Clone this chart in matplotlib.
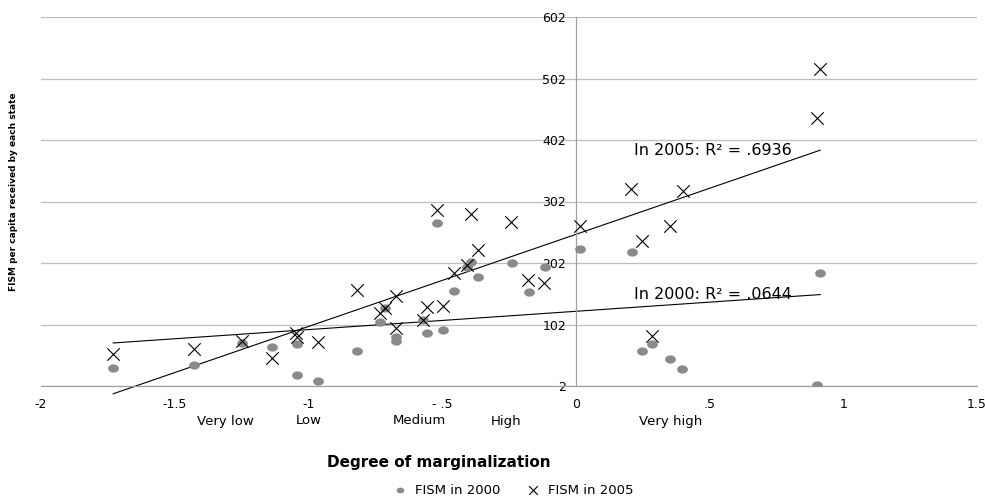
import numpy as np
import matplotlib
matplotlib.use('Agg')
import matplotlib.pyplot as plt

# Marginalization index vs FISM per capita, by state
marg_2000 = [-1.73, -1.427, -1.247, -1.135, -1.041, -1.041, -0.963, -0.82, -0.734, -0.715,
             -0.674, -0.674, -0.573, -0.558, -0.498, -0.52, -0.457, -0.393, -0.408, -0.367,
             -0.24, -0.176, -0.116, 0.015, 0.21, 0.247, 0.285, 0.352, 0.397, 0.903, 0.914]
fism_2000 = [31, 36, 72, 65, 70, 20, 10, 59, 106, 129,
             82, 75, 109, 88, 93, 267, 156, 203, 195, 179,
             202, 155, 195, 224, 220, 59, 70, 46, 30, 4, 185]

marg_2005 = [-1.73, -1.427, -1.247, -1.135, -1.045, -1.041, -0.963, -0.82, -0.734, -0.715,
             -0.674, -0.674, -0.573, -0.558, -0.498, -0.52, -0.393, -0.243, -0.457, -0.408,
             -0.367, -0.18, -0.12, 0.015, 0.206, 0.40, 0.352, 0.247, 0.285, 0.903, 0.914]
fism_2005 = [54, 62, 75, 47, 88, 82, 73, 158, 120, 129,
             148, 96, 109, 130, 132, 288, 281, 268, 185, 198,
             223, 174, 169, 262, 322, 319, 262, 237, 83, 437, 517]

x_ticks = [-2, -1.5, -1, -0.5, 0, 0.5, 1, 1.5]
x_tick_labels = ['-2', '-1.5', '-1', '- .5', '0', '.5', '1', '1.5']
y_ticks = [2, 102, 202, 302, 402, 502, 602]
degree_labels = ['Very low', 'Low', 'Medium', 'High', 'Very high']
degree_pos = [-1.31, -1.0, -0.584, -0.262, 0.356]

grid_col = '#bdbdbd'
dot_col = '#8a8a8a'

# slightly flattened dot
t = np.linspace(0, 2 * np.pi, 40)
oval = np.column_stack([1.3 * np.cos(t), np.sin(t)])

fig = plt.figure(figsize=(9.85, 5.01), dpi=100)
ax = fig.add_axes([41/985, 1 - 386/501, (977 - 41)/985, (386 - 17)/501])

ax.scatter(marg_2000, fism_2000, s=60, color=dot_col, marker=oval, linewidths=0,
           label='FISM in 2000', zorder=3)
ax.scatter(marg_2005, fism_2005, s=80, color='black', marker='x', linewidths=0.8,
           label='FISM in 2005', zorder=3)

# linear trend for each year
for xs, ys in [(marg_2000, fism_2000), (marg_2005, fism_2005)]:
    xs = np.array(xs)
    ys = np.array(ys)
    m, b = np.polyfit(xs, ys, 1)
    xl = np.array([xs.min(), xs.max()])
    ax.plot(xl, m * xl + b, color='black', lw=0.8, zorder=2, clip_on=False)

ax.text(0.217, 385, 'In 2005: R² = .6936', fontsize=11.5, va='center', ha='left')
ax.text(0.217, 150, 'In 2000: R² = .0644', fontsize=11.5, va='center', ha='left')

ax.set_xlim(-2, 1.5)
ax.set_ylim(2, 602)
ax.set_xticks(x_ticks)
ax.set_xticklabels(x_tick_labels)
ax.set_yticks(y_ticks)
ax.tick_params(axis='both', length=0, labelsize=9)
ax.tick_params(axis='x', pad=9)
ax.tick_params(axis='y', pad=7)

ax.spines['left'].set_position(('data', 0))
ax.spines['left'].set_color('#a0a0a0')
ax.spines['left'].set_linewidth(0.9)
ax.spines['bottom'].set_color('#a0a0a0')
ax.spines['bottom'].set_linewidth(0.9)
ax.spines['top'].set_visible(False)
ax.spines['right'].set_visible(False)
ax.yaxis.grid(True, color=grid_col, lw=0.9)
ax.set_axisbelow(True)

for lab, pos in zip(degree_labels, degree_pos):
    ax.annotate(lab, xy=(pos, 0), xycoords=('data', 'axes fraction'),
                xytext=(0, -35 * 0.72), textcoords='offset points',
                ha='center', va='center', fontsize=9.5)

fig.text(439/985, 1 - 462/501, 'Degree of marginalization', ha='center', va='center',
         fontsize=11, fontweight='bold')
fig.text(14/985, 1 - 192/501, 'FISM per capita received by each state', ha='center',
         va='center', rotation=90, fontsize=6.5, fontweight='bold')

fig.legend(loc='center', bbox_to_anchor=(510/985, 1 - 490/501), ncol=2, frameon=False,
           fontsize=9.5, handletextpad=0.1, columnspacing=1.5, markerscale=0.7)

fig.savefig('out.png', dpi=100)
